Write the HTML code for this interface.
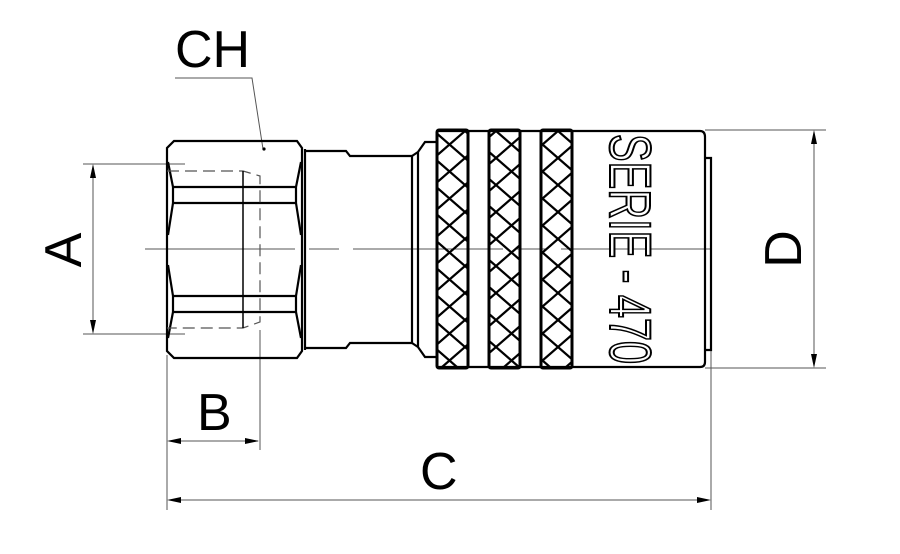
<!DOCTYPE html>
<html><head><meta charset="utf-8"><style>html,body{margin:0;padding:0;background:#fff}svg{display:block}</style></head>
<body>
<svg width="900" height="554" viewBox="0 0 900 554" xmlns="http://www.w3.org/2000/svg">
<defs>
<clipPath id="k1"><rect x="437" y="130" width="31" height="238"/></clipPath>
<clipPath id="k2"><rect x="489" y="130" width="31" height="238"/></clipPath>
<clipPath id="k3"><rect x="541" y="130" width="31" height="238"/></clipPath>
<pattern id="kn" x="0" y="131" width="31" height="54" patternUnits="userSpaceOnUse">
<path d="M0,0 L31,27 L0,54 M31,0 L0,27 L31,54 M0,-54 L31,-27 L0,0 M31,54 L0,81" stroke="#000" stroke-width="2.2" fill="none"/>
</pattern>
</defs>
<g fill="none" stroke="#555" stroke-width="1">
<line x1="145" y1="249" x2="725" y2="249" stroke-dasharray="150,14,30,14"/>
<line x1="83" y1="164" x2="185" y2="164"/>
<line x1="83" y1="334" x2="185" y2="334"/>
<line x1="93" y1="166" x2="93" y2="332"/>
<line x1="167" y1="355" x2="167" y2="510"/>
<line x1="260" y1="330" x2="260" y2="450"/>
<line x1="711" y1="350" x2="711" y2="510"/>
<line x1="169" y1="441" x2="258" y2="441"/>
<line x1="169" y1="500" x2="709" y2="500"/>
<line x1="705" y1="130" x2="826" y2="130"/>
<line x1="705" y1="368" x2="826" y2="368"/>
<line x1="814" y1="132" x2="814" y2="366"/>
<polyline points="175,78 252,78 263,149"/>
</g>
<g fill="#000">
<polygon points="93,164 90,178 96,178"/><polygon points="93,334 90,320 96,320"/>
<polygon points="167,441 181,438 181,444"/><polygon points="259,441 245,438 245,444"/>
<polygon points="167,500 181,497 181,503"/><polygon points="711,500 697,497 697,503"/>
<polygon points="814,130 811,144 817,144"/><polygon points="814,368 811,354 817,354"/>
<circle cx="264" cy="149" r="1.6"/>
</g>
<g fill="none" stroke="#000" stroke-width="2.2">
<path d="M174,141 L297,141 L302,148 L302,351 L297,358 L174,358 L167,351 L167,148 Z"/>
<path d="M172,187 L297,187 M172,203 L297,203 M172,296 L297,296 M172,312 L297,312"/>
<path d="M168,162 L173,187 L173,203 L168,235 M168,265 L173,296 L173,312 L168,338"/>
<path d="M301,162 L296,187 L296,203 L301,235 M301,265 L296,296 L296,312 L301,338"/>
<line x1="305" y1="149" x2="305" y2="350"/>
<path d="M305,151 L346,151 L350,156 L412,156 L412,343 L350,343 L346,348 L305,348"/>
<line x1="418" y1="152" x2="418" y2="347"/>
<path d="M412,156 L418,152 L425,142 L437,142 M412,343 L418,347 L425,357 L437,357"/>
<path d="M437,131 L700,131 Q705,131 705,137 L705,362 Q705,367 700,367 L437,367"/>
<path d="M705,158 L711,158 L711,350 L705,350"/>
</g>
<g stroke="#555" stroke-width="1.2" fill="none">
<path d="M167,171 L243,171 L260,176 L260,322 L243,328 L167,328" stroke-dasharray="12,6"/>
<line x1="243" y1="171" x2="243" y2="328" stroke="#000" stroke-width="1.5"/>
</g>
<g>
<rect x="437" y="130" width="31" height="238" fill="url(#kn)" clip-path="url(#k1)"/>
<rect x="489" y="130" width="31" height="238" fill="url(#kn)" clip-path="url(#k2)"/>
<rect x="541" y="130" width="31" height="238" fill="url(#kn)" clip-path="url(#k3)"/>
</g>
<g fill="none" stroke="#000" stroke-width="3">
<rect x="437" y="130" width="31" height="238" rx="2"/>
<rect x="489" y="130" width="31" height="238" rx="2"/>
<rect x="541" y="130" width="31" height="238" rx="2"/>
</g>
<g transform="translate(610,134) rotate(90)">
<text x="0" y="0" font-family="'Liberation Sans',sans-serif" font-size="58" fill="#fff" stroke="#000" stroke-width="2" textLength="230" lengthAdjust="spacingAndGlyphs" xml:space="preserve">SERIE - 470</text>
</g>
<g font-family="'Liberation Sans',sans-serif" fill="#000" font-size="52">
<text x="175" y="67">CH</text>
<text x="197" y="430">B</text>
<text x="420" y="489">C</text>
<text transform="translate(81,250) rotate(-90)" text-anchor="middle">A</text>
<text transform="translate(801,249) rotate(-90)" text-anchor="middle">D</text>
</g>
</svg>
</body></html>
